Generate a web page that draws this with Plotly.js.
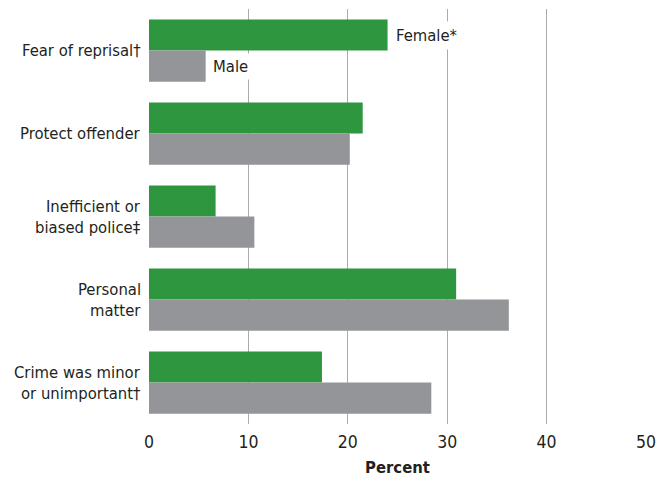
<!DOCTYPE html>
<html>
<head>
<meta charset="utf-8">
<script src="https://cdn.plot.ly/plotly-3.0.1.min.js"></script>
<style>
html,body{margin:0;padding:0;background:#fff;}
#chart{width:667px;height:485px;}
</style>
</head>
<body>
<div id="chart"></div>
<script>
var categories = ["Fear of reprisal†", "Protect offender", "Inefficient or<br>biased police‡", "Personal<br>matter", "Crime was minor<br>or unimportant†"];
var femaleValues = [24.0, 21.5, 6.7, 30.9, 17.4];
var maleValues = [5.7, 20.2, 10.6, 36.2, 28.4];
var seriesNames = ["Female*", "Male"];
var xTicks = [0, 10, 20, 30, 40, 50];

var FONT = '"DejaVu Sans Condensed", "Liberation Sans Narrow", sans-serif';
var TXT = '#231f20';

var traces = [
  {type: 'bar', orientation: 'h', name: seriesNames[0], y: categories, x: femaleValues,
   marker: {color: '#2e963f'}, hoverinfo: 'x'},
  {type: 'bar', orientation: 'h', name: seriesNames[1], y: categories, x: maleValues,
   marker: {color: '#939598'}, hoverinfo: 'x'}
];

var annotations = [];
// category labels, one annotation per line for tight line spacing
categories.forEach(function(c){
  var lines = c.split('<br>');
  var n = lines.length;
  lines.forEach(function(line, i){
    annotations.push({
      xref: 'paper', yref: 'y', x: 0, y: c,
      text: line, showarrow: false, xanchor: 'right', yanchor: 'middle',
      xshift: -6, yshift: ((n - 1) / 2 - i) * 21,
      font: {family: FONT, size: 16.5, color: TXT}
    });
  });
});
// series labels next to first group
annotations.push({
  xref: 'x', yref: 'y', x: femaleValues[0], y: categories[0],
  text: seriesNames[0], showarrow: false, xanchor: 'left', yanchor: 'middle',
  xshift: 3, yshift: 15.5, bgcolor: '#ffffff', borderpad: 4,
  font: {family: FONT, size: 16.5, color: TXT}
});
annotations.push({
  xref: 'x', yref: 'y', x: maleValues[0], y: categories[0],
  text: seriesNames[1], showarrow: false, xanchor: 'left', yanchor: 'middle',
  xshift: 3, yshift: -16, bgcolor: '#ffffff', borderpad: 3,
  font: {family: FONT, size: 16.5, color: TXT}
});

var layout = {
  width: 667, height: 485,
  margin: {l: 149, r: 21, t: 9, b: 61, pad: 0},
  paper_bgcolor: '#ffffff', plot_bgcolor: '#ffffff',
  barmode: 'group', bargap: 0.25, bargroupgap: 0,
  showlegend: false,
  font: {family: FONT, size: 17, color: TXT},
  xaxis: {
    range: [0, 50], tickvals: xTicks, ticktext: xTicks.map(String),
    showgrid: true, gridcolor: '#ababab', gridwidth: 1,
    zeroline: false, showline: false, ticks: '',
    tickfont: {family: FONT, size: 17.5, color: TXT},
    ticklabelstandoff: 5,
    title: {text: '<b>Percent</b>', font: {family: FONT, size: 16.5, color: TXT}, standoff: 10},
    fixedrange: true
  },
  yaxis: {
    type: 'category', autorange: 'reversed', showticklabels: false,
    showgrid: false, zeroline: false, showline: false, ticks: '',
    fixedrange: true
  },
  annotations: annotations
};

Plotly.newPlot('chart', traces, layout, {displayModeBar: false, staticPlot: true});
</script>
</body>
</html>
